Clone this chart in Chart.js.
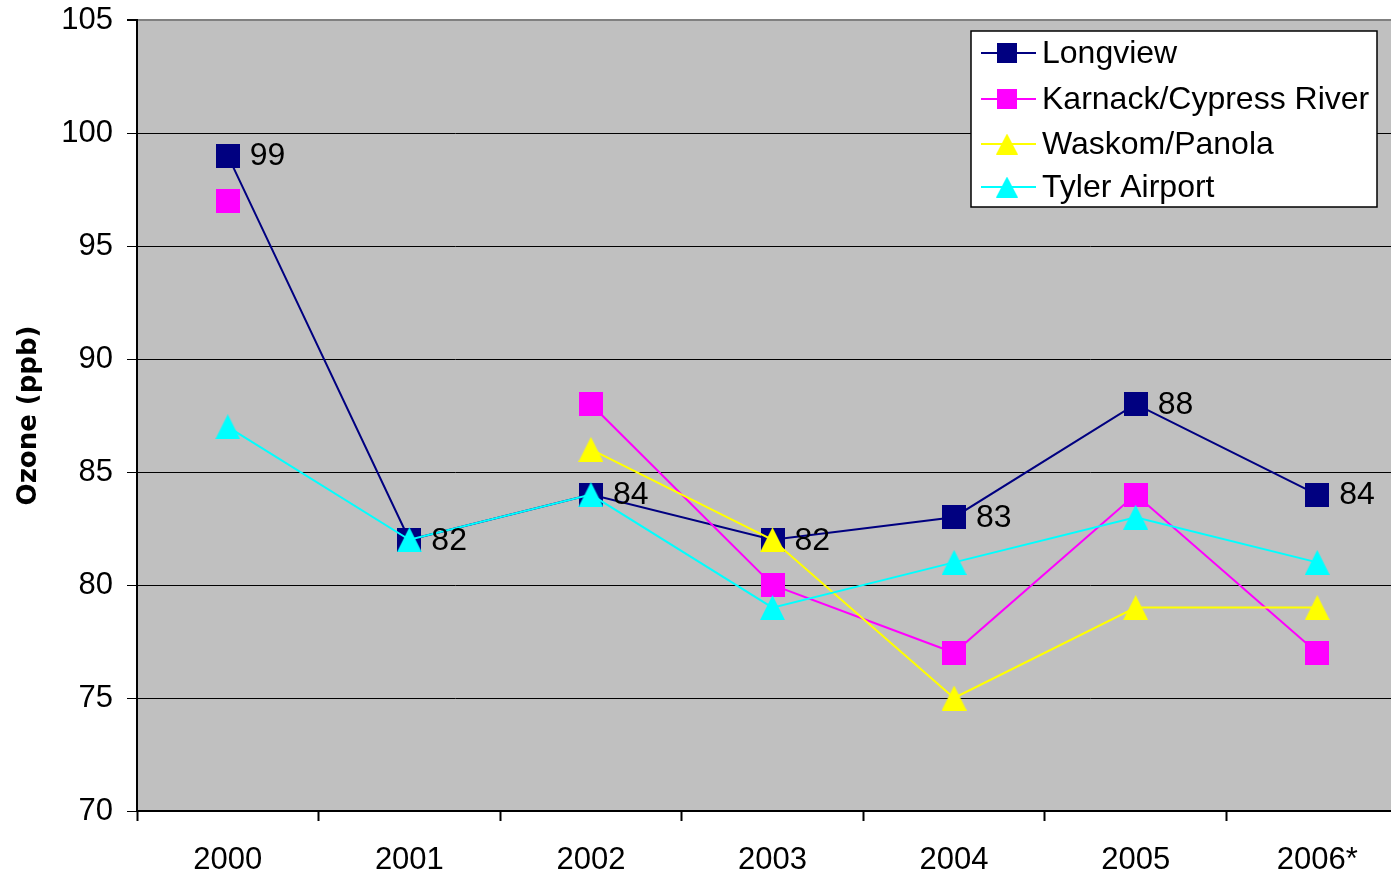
<!DOCTYPE html>
<html>
<head>
<meta charset="utf-8">
<title>Ozone (ppb) 2000-2006</title>
<script src="https://cdn.jsdelivr.net/npm/chart.js@4.4.1/dist/chart.umd.min.js"></script>
<style>
  html, body { margin: 0; padding: 0; background: #ffffff; overflow: hidden; }
  #wrap { position: relative; width: 1422px; height: 875px; }
</style>
</head>
<body>
<div id="wrap"><canvas id="chart" width="1422" height="875"></canvas></div>
<script>
// Years on the category axis
const years = ['2000', '2001', '2002', '2003', '2004', '2005', '2006*'];

// Ozone readings (ppb) per monitoring site; null = no reading that year
const longview = [99, 82, 84, 82, 83, 88, 84];
const karnack  = [97, null, 88, 80, 77, 84, 77];
const waskom   = [null, null, 86, 82, 75, 79, 79];
const tyler    = [87, 82, 84, 79, 81, 83, 81];

// Value axis range and step
const yMin = 70;
const yMax = 105;
const yStep = 5;

const NAVY = '#000080';
const MAGENTA = '#FF00FF';
const YELLOW = '#FFFF00';
const CYAN = '#00FFFF';
const FONT = "'Liberation Sans', Arial, sans-serif";

// Marker sprites: filled squares and upward triangles
function squareMarker(color, size) {
  const c = document.createElement('canvas');
  c.width = size; c.height = size;
  const g = c.getContext('2d');
  g.fillStyle = color;
  g.fillRect(0, 0, size, size);
  return c;
}
function triangleMarker(color, w, h) {
  const c = document.createElement('canvas');
  c.width = w; c.height = h;
  const g = c.getContext('2d');
  g.fillStyle = color;
  g.beginPath();
  g.moveTo(w / 2, 0);
  g.lineTo(w, h);
  g.lineTo(0, h);
  g.closePath();
  g.fill();
  return c;
}

const markers = {
  longview: squareMarker(NAVY, 24),
  karnack: squareMarker(MAGENTA, 24),
  waskom: triangleMarker(YELLOW, 25, 25),
  tyler: triangleMarker(CYAN, 25, 25)
};
const legendMarkers = {
  longview: squareMarker(NAVY, 20),
  karnack: squareMarker(MAGENTA, 20),
  waskom: triangleMarker(YELLOW, 22, 21),
  tyler: triangleMarker(CYAN, 22, 21)
};

function series(label, data, color, marker, legendMarker, order) {
  return {
    label, data,
    borderColor: color,
    backgroundColor: color,
    borderWidth: 2,
    pointStyle: marker,
    legendMarker: legendMarker,
    pointRadius: 12,
    pointHoverRadius: 12,
    tension: 0,
    spanGaps: false,
    order
  };
}

// Grey plot area
const plotBackground = {
  id: 'plotBackground',
  beforeDraw(chart) {
    const a = chart.chartArea;
    const ctx = chart.ctx;
    ctx.save();
    ctx.fillStyle = '#C0C0C0';
    ctx.fillRect(a.left, a.top, a.right - a.left, a.bottom - a.top);
    ctx.restore();
  }
};

// Value labels beside the Longview points
const valueLabels = {
  id: 'valueLabels',
  afterDatasetsDraw(chart) {
    const ctx = chart.ctx;
    const meta = chart.getDatasetMeta(0);
    const data = chart.data.datasets[0].data;
    ctx.save();
    ctx.font = '32px ' + FONT;
    ctx.fillStyle = '#000';
    ctx.textAlign = 'left';
    ctx.textBaseline = 'middle';
    meta.data.forEach((pt, i) => {
      if (data[i] == null) return;
      ctx.fillText(String(data[i]), pt.x + 22, pt.y + 1);
    });
    ctx.restore();
  }
};

// Boxed legend inside the plot's upper right corner
const boxLegend = {
  id: 'boxLegend',
  afterDraw(chart) {
    const ctx = chart.ctx;
    const box = { x: 971, y: 31, w: 406, h: 176 };
    const rows = [53, 99, 144, 187];
    ctx.save();
    ctx.fillStyle = '#ffffff';
    ctx.fillRect(box.x, box.y, box.w, box.h);
    ctx.strokeStyle = '#000';
    ctx.lineWidth = 1.5;
    ctx.strokeRect(box.x, box.y, box.w, box.h);
    ctx.font = '32px ' + FONT;
    ctx.textAlign = 'left';
    ctx.textBaseline = 'middle';
    chart.data.datasets.forEach((ds, i) => {
      const y = rows[i];
      ctx.strokeStyle = ds.borderColor;
      ctx.lineWidth = 2;
      ctx.beginPath();
      ctx.moveTo(981, y);
      ctx.lineTo(1036, y);
      ctx.stroke();
      const m = ds.legendMarker;
      ctx.drawImage(m, 1007 - m.width / 2, y - m.height / 2);
      ctx.fillStyle = '#000';
      ctx.fillText(ds.label, 1042, y + 1);
    });
    ctx.restore();
  }
};

new Chart(document.getElementById('chart'), {
  type: 'line',
  data: {
    labels: years,
    datasets: [
      series('Longview', longview, NAVY, markers.longview, legendMarkers.longview, 3),
      series('Karnack/Cypress River', karnack, MAGENTA, markers.karnack, legendMarkers.karnack, 2),
      series('Waskom/Panola', waskom, YELLOW, markers.waskom, legendMarkers.waskom, 1),
      series('Tyler Airport', tyler, CYAN, markers.tyler, legendMarkers.tyler, 0)
    ]
  },
  options: {
    responsive: false,
    animation: false,
    devicePixelRatio: 1,
    layout: { padding: { top: 20, right: 0, bottom: 0, left: 0 } },
    plugins: {
      legend: { display: false },
      tooltip: { enabled: false },
      title: { display: false }
    },
    scales: {
      x: {
        type: 'category',
        offset: true,
        grid: {
          offset: true,
          drawOnChartArea: false,
          drawTicks: true,
          tickLength: 10,
          tickColor: '#000',
          tickWidth: 2
        },
        border: { display: true, color: '#000', width: 2 },
        ticks: {
          color: '#000',
          font: { family: FONT, size: 31 },
          padding: 21,
          maxRotation: 0,
          autoSkip: false
        },
        afterFit(scale) {
          scale.height = 64;
          scale.paddingLeft = 0;
          scale.paddingRight = 0;
        }
      },
      y: {
        min: yMin,
        max: yMax,
        grid: {
          color: (c) => (c.tick && c.tick.value === yMax ? '#808080' : '#000'),
          lineWidth: (c) => (c.tick && c.tick.value === yMax ? 2 : 1),
          tickColor: '#000',
          tickLength: 10,
          drawTicks: true
        },
        border: { display: true, color: '#000', width: 2 },
        ticks: {
          stepSize: yStep,
          color: '#000',
          font: { family: FONT, size: 31 },
          padding: 14
        },
        title: {
          display: true,
          text: 'Ozone (ppb)',
          color: '#000',
          font: { family: "'DejaVu Sans', sans-serif", size: 26, weight: 'bold' },
          padding: { top: 14, bottom: 0 }
        },
        afterFit(scale) {
          scale.width = 137;
          scale.paddingTop = 0;
          scale.paddingBottom = 0;
        }
      }
    }
  },
  plugins: [plotBackground, valueLabels, boxLegend]
});
</script>
</body>
</html>
